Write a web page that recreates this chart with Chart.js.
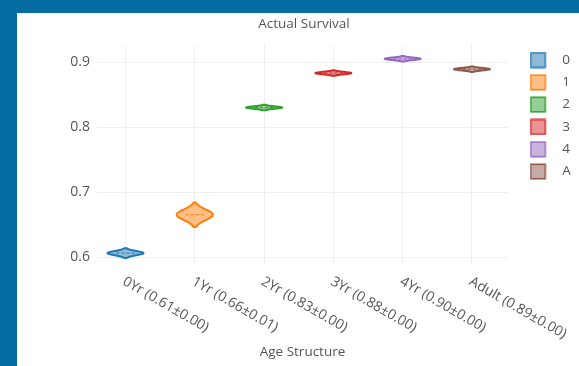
<!DOCTYPE html>
<html><head><meta charset="utf-8">
<script src="https://cdn.jsdelivr.net/npm/chart.js@4.4.1/dist/chart.umd.min.js"></script>
<style>
html,body{margin:0;padding:0;background:#046ca0;width:579px;height:366px;overflow:hidden;}
#panel{position:absolute;left:17px;top:13px;width:562px;height:353px;background:#fff;}
canvas{display:block;}
</style></head><body>
<div id="panel"><canvas id="c" width="562" height="353"></canvas></div>
<script>
const categories = ['0Yr (0.61±0.00)', '1Yr (0.66±0.01)', '2Yr (0.83±0.00)', '3Yr (0.88±0.00)', '4Yr (0.90±0.00)', 'Adult (0.89±0.00)'];
const groups = ['0', '1', '2', '3', '4', 'A'];
const means = [0.606, 0.665, 0.830, 0.883, 0.905, 0.889];
const spreads = [0.0075, 0.0187, 0.0042, 0.0042, 0.0042, 0.0042];
const yTicks = [0.6, 0.7, 0.8, 0.9];
const colors = ['#1f77b4', '#ff7f0e', '#2ca02c', '#d62728', '#9467bd', '#8c564b'];

const TXT = '#555';
Chart.defaults.font.family = '"Open Sans", sans-serif';
Chart.defaults.font.size = 13.5;
Chart.defaults.color = TXT;

function rgba(hex, a) {
  const n = parseInt(hex.slice(1), 16);
  return `rgba(${(n >> 16) & 255},${(n >> 8) & 255},${n & 255},${a})`;
}
function swatch(color) {
  const c = document.createElement('canvas');
  c.width = 26; c.height = 17;
  const g = c.getContext('2d');
  g.fillStyle = rgba(color, 0.5);
  g.fillRect(1, 1, 15, 15);
  g.strokeStyle = color; g.lineWidth = 1.5;
  g.strokeRect(1.25, 1.25, 14.5, 14.5);
  return c;
}

const datasets = groups.map((g, i) => ({
  label: g,
  data: [{x: i, y: means[i]}],
  spread: spreads[i],
  backgroundColor: rgba(colors[i], 0.5),
  borderColor: colors[i],
  pointRadius: 0,
  pointHoverRadius: 0,
  pointStyle: swatch(colors[i])
}));

const violinPlugin = {
  id: 'violins',
  afterDatasetsDraw(chart) {
    const ctx = chart.ctx, xs = chart.scales.x, ys = chart.scales.y;
    chart.data.datasets.forEach((ds) => {
      const p = ds.data[0];
      const cx = xs.getPixelForValue(p.x), cy = ys.getPixelForValue(p.y);
      const h = Math.abs(ys.getPixelForValue(p.y + ds.spread) - cy);
      const W = Math.abs(xs.getPixelForValue(p.x + 0.26) - cx);
      const N = 40;
      ctx.save();
      ctx.beginPath();
      for (let k = 0; k <= N; k++) {
        const t = -1 + 2 * k / N, w = W * Math.exp(-2.6 * t * t);
        if (k === 0) ctx.moveTo(cx + w, cy + t * h); else ctx.lineTo(cx + w, cy + t * h);
      }
      for (let k = N; k >= 0; k--) {
        const t = -1 + 2 * k / N, w = W * Math.exp(-2.6 * t * t);
        ctx.lineTo(cx - w, cy + t * h);
      }
      ctx.closePath();
      ctx.fillStyle = ds.backgroundColor; ctx.fill();
      ctx.lineWidth = 2; ctx.lineJoin = 'round'; ctx.strokeStyle = ds.borderColor; ctx.stroke();
      ctx.setLineDash([3, 2]); ctx.lineWidth = 1;
      ctx.beginPath(); ctx.moveTo(cx - W * 0.5, cy); ctx.lineTo(cx + W * 0.5, cy); ctx.stroke();
      ctx.restore();
    });
  }
};

const xLabelPlugin = {
  id: 'xlabels',
  afterDraw(chart) {
    const ctx = chart.ctx, xs = chart.scales.x, bottom = chart.chartArea.bottom;
    ctx.save();
    ctx.font = '14px "Open Sans"';
    ctx.fillStyle = TXT; ctx.textAlign = 'left'; ctx.textBaseline = 'middle';
    categories.forEach((c, i) => {
      ctx.save();
      ctx.translate(xs.getPixelForValue(i), bottom + 18);
      ctx.rotate(30 * Math.PI / 180);
      ctx.fillText(c, -2, 0);
      ctx.restore();
    });
    ctx.restore();
  }
};

new Chart(document.getElementById('c'), {
  type: 'scatter',
  data: {datasets},
  options: {
    responsive: false, animation: false, devicePixelRatio: 1,
    events: [],
    layout: {padding: {left: 20.1, right: 8.1, top: 0, bottom: 0}},
    plugins: {
      title: {display: true, text: 'Actual Survival', color: TXT, font: {size: 13.5, weight: 'normal'}, padding: {top: 2.9, bottom: 12.4}},
      legend: {
        position: 'right', align: 'start', fullSize: false, maxWidth: 50.2,
        labels: {usePointStyle: true, pointStyleWidth: 26, padding: 8.8, color: TXT, font: {size: 13.5}}
      },
      tooltip: {enabled: false}
    },
    scales: {
      x: {
        type: 'linear', min: -0.411, max: 5.52,
        afterBuildTicks: (s) => { s.ticks = categories.map((c, i) => ({value: i})); },
        afterFit: (s) => { s.height = 102.5; },
        ticks: {display: false},
        grid: {color: '#eeeeee', drawTicks: false},
        border: {display: false},
        title: {display: true, text: 'Age Structure', color: TXT, font: {size: 13.5}, padding: {top: 0, bottom: 5.9}}
      },
      y: {
        type: 'linear', min: 0.59, max: 0.927,
        afterBuildTicks: (s) => { s.ticks = yTicks.map(v => ({value: v})); },
        afterFit: (s) => { s.width = 59.9; },
        ticks: {padding: 7, color: TXT, font: {size: 14}, callback: (v) => v.toFixed(1)},
        grid: {color: '#eeeeee', drawTicks: false},
        border: {display: false}
      },
      gap: {
        type: 'linear', position: 'right',
        afterFit: (s) => { s.width = 12.7; },
        ticks: {display: false}, grid: {display: false}, border: {display: false}
      }
    }
  },
  plugins: [violinPlugin, xLabelPlugin]
});
</script>
</body></html>
